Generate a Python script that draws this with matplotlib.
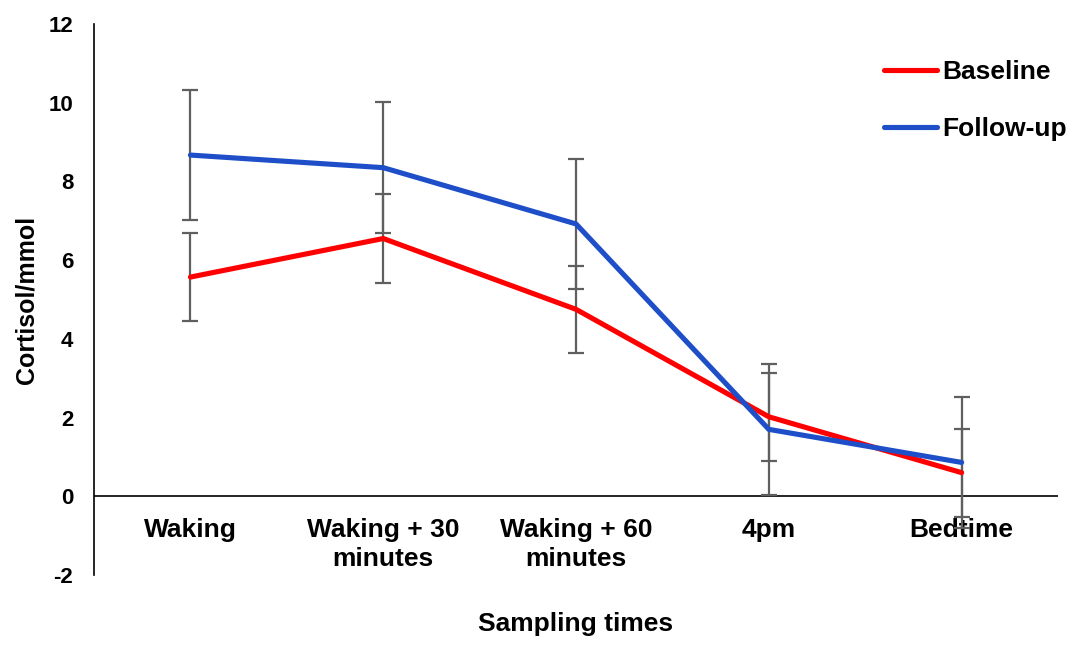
import matplotlib.pyplot as plt
import numpy as np

plt.rcParams['font.family'] = ['Liberation Sans', 'DejaVu Sans']
plt.rcParams['font.weight'] = 'bold'
plt.rcParams['axes.unicode_minus'] = False

times = ["Waking", "Waking + 30\nminutes", "Waking + 60\nminutes", "4pm", "Bedtime"]
baseline = [5.57, 6.55, 4.75, 2.02, 0.60]
followup = [8.67, 8.35, 6.92, 1.70, 0.86]
baseline_err = [1.12, 1.12, 1.11, 1.12, 1.12]
followup_err = [1.66, 1.67, 1.65, 1.67, 1.67]

fig = plt.figure(figsize=(10.76, 6.53), dpi=100)
ax = fig.add_axes([0.0874, 0.1195, 0.8959, 0.8437])

x = np.arange(len(times))
ax.errorbar(x, baseline, yerr=baseline_err, fmt='none', ecolor='#5f5f5f',
            elinewidth=1.6, capsize=6, capthick=1.6, zorder=2)
ax.errorbar(x, followup, yerr=followup_err, fmt='none', ecolor='#5f5f5f',
            elinewidth=1.6, capsize=6, capthick=1.6, zorder=2)
ax.plot(x, baseline, color='#ff0000', lw=3.7, label='Baseline', zorder=3,
        solid_capstyle='round')
ax.plot(x, followup, color='#1f4fc8', lw=3.7, label='Follow-up', zorder=3,
        solid_capstyle='round')

ax.axhline(0, color='black', lw=1.2, zorder=1)
ax.set_xlim(-0.5, 4.5)
ax.set_ylim(-2, 12)
ax.set_yticks(range(-2, 13, 2))

for s in ['top', 'right', 'bottom']:
    ax.spines[s].set_visible(False)
ax.spines['left'].set_linewidth(1.2)
ax.tick_params(axis='y', length=0, pad=15, labelsize=16)
ax.tick_params(axis='x', length=0)
ax.set_xticks(x)
ax.set_xticklabels([])
for i, t in enumerate(times):
    ax.text(i, -0.55, t, ha='center', va='top', fontsize=19,
            fontweight='bold', linespacing=1.25, zorder=1)

ax.set_ylabel('Cortisol/mmol', fontsize=18, fontweight='bold', labelpad=7.5)
fig.text(0.535, 0.026, 'Sampling times', ha='center', va='bottom',
         fontsize=19, fontweight='bold')

ax.legend(loc='upper right', bbox_to_anchor=(1.034, 0.977), frameon=False,
          fontsize=19, handlelength=2.0, handletextpad=0.2,
          labelspacing=1.25)

fig.savefig('out.png', dpi=100)
